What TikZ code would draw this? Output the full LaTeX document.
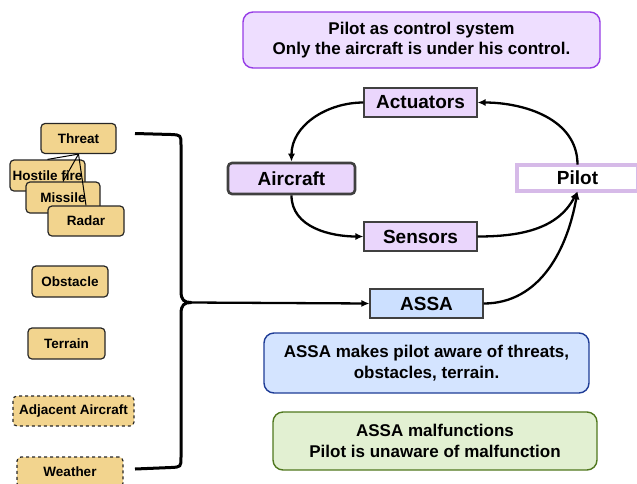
\documentclass[tikz,border=0pt]{standalone}
\usepackage{fontspec}
\setmainfont{Liberation Sans}
\usetikzlibrary{arrows.meta}
\usetikzlibrary{positioning}

\definecolor{tanfill}{RGB}{242,212,142}
\definecolor{lavfill}{RGB}{234,214,252}
\definecolor{topfill}{RGB}{238,222,255}
\definecolor{topedge}{RGB}{150,60,230}
\definecolor{pilotedge}{RGB}{130,110,140}
\definecolor{pilotband}{RGB}{214,186,232}
\definecolor{assafill}{RGB}{204,224,255}
\definecolor{bluefill}{RGB}{212,228,255}
\definecolor{blueedge}{RGB}{30,60,150}
\definecolor{greenfill}{RGB}{226,240,210}
\definecolor{greenedge}{RGB}{80,120,30}

\begin{document}
\begin{tikzpicture}[x=1pt, y=-1pt,
  every node/.style={font=\bfseries, align=center, inner sep=0pt},
  hazard/.style={draw=black!85, line width=1.2pt, fill=tanfill, rounded corners=4pt,
    minimum height=30pt, font=\bfseries\fontsize{13.5}{16}\selectfont},
  loopbox/.style={draw=black!75, line width=1.1pt, fill=lavfill, minimum width=113pt,
    minimum height=29pt, font=\bfseries\fontsize{19}{22}\selectfont},
  notebox/.style={rounded corners=10pt, line width=1.4pt,
    font=\bfseries\fontsize{17}{20.5}\selectfont},
  flow/.style={-{Latex[length=8pt,width=7pt]}, line width=2.3pt}]
\clip (0,0) rectangle (637,483);

% note at the top
\node[notebox, draw=topedge, fill=topfill, minimum width=357pt, minimum height=56pt] (N0) at (421.5,40)
  {Pilot as control system\\Only the aircraft is under his control.};

% control loop
\node[loopbox] (Act) at (420.5,102.5) {Actuators};
\node[loopbox, line width=2.6pt, rounded corners=4pt, minimum width=127pt, minimum height=31pt] (Air) at (291.5,178.5) {Aircraft};
\node[loopbox] (Sen) at (420.5,236.5) {Sensors};
\node[loopbox, fill=white, draw=pilotedge, double=pilotband, double distance=3.2pt, line width=0.8pt,
  minimum width=121pt, minimum height=26pt] (Pil) at (577.5,178) {Pilot};
\node[loopbox, fill=assafill, minimum width=113pt] (ASSA) at (426.5,303.5) {ASSA};

% notes at the bottom
\node[notebox, draw=blueedge, fill=bluefill, minimum width=325pt, minimum height=60pt] (N1) at (426.5,363)
  {ASSA makes pilot aware of threats,\\obstacles, terrain.};
\node[notebox, draw=greenedge, fill=greenfill, minimum width=324pt, minimum height=58pt] (N2) at (435,441)
  {ASSA malfunctions\\Pilot is unaware of malfunction};

% hazards
\node[hazard, minimum width=75pt] (H0) at (78.5,138.5) {Threat};
\node[hazard, minimum width=75pt, minimum height=31pt] (H1) at (47.5,175.5) {Hostile fire};
\node[hazard, minimum width=74pt, minimum height=31pt] (H2) at (63,197.5) {Missile};
\node[hazard, minimum width=76pt] (H3) at (86,221) {Radar};
\node[hazard, minimum width=76pt, minimum height=31pt] (H4) at (70,281.5) {Obstacle};
\node[hazard, minimum width=77pt, minimum height=31pt] (H5) at (66.5,343.5) {Terrain};
\node[hazard, dashed, minimum width=121pt] (H6) at (73.5,411) {Adjacent Aircraft};
\node[hazard, dashed, minimum width=106pt] (H7) at (70,472) {Weather};

\draw[line width=1pt] (H0.south) -- (H1.north);
\draw[line width=1pt] (H0.south) -- (H2.north);
\draw[line width=1pt] (H0.south) -- (H3.north);

% brace
\coordinate (B0) at (135,133.5);
\coordinate (B1) at (191,302.5);
\coordinate (B2) at (135,469);
\draw[line width=3pt, line join=round] (B0) -- (171,134.5) .. controls (181,135) .. (181,145)
  -- (181,291) .. controls (181,300) and (184,302.5) .. (B1)
  .. controls (184,302.5) and (181,305) .. (181,314)
  -- (181,457) .. controls (181,467) .. (171,467.5) -- (B2);

\draw[flow] (B1) -- (ASSA.west);
\draw[flow] (Pil.north) to[out=90, in=0] (Act.east);
\draw[flow] (Act.west) to[out=180, in=90] (Air.north);
\draw[flow] (Air.south) to[out=-90, in=180] (Sen.west);
\draw[flow] (Sen.east) to[out=0, in=-118] (Pil.south);
\draw[flow] (ASSA.east) to[out=0, in=-100] (Pil.south);
\end{tikzpicture}
\end{document}
